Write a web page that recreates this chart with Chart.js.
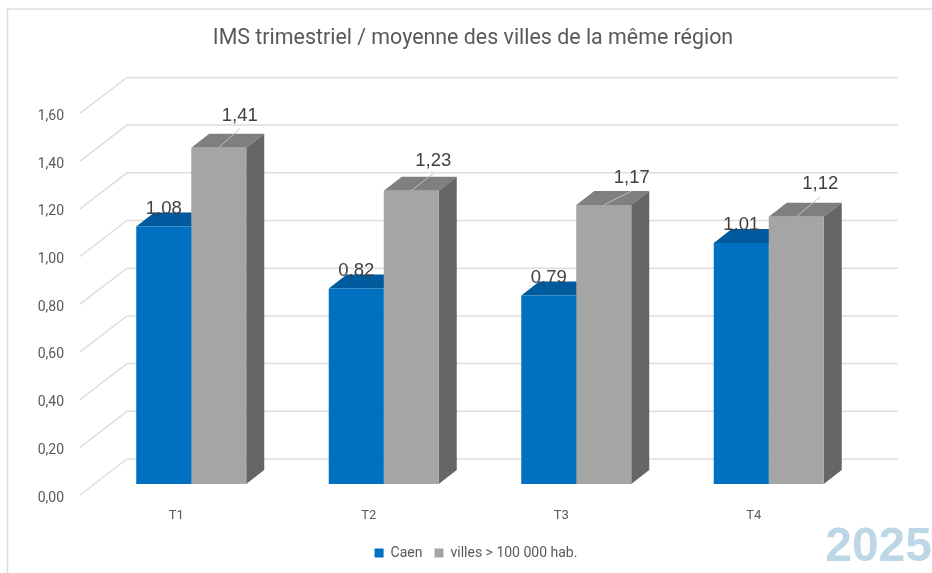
<!DOCTYPE html>
<html>
<head>
<meta charset="utf-8">
<title>IMS trimestriel</title>
<script src="https://cdn.jsdelivr.net/npm/chart.js@4"></script>
<style>
html, body { margin: 0; padding: 0; background: #fff; overflow: hidden; }
#wrap { position: absolute; left: 0; top: 0; width: 932px; height: 573px; }
</style>
</head>
<body>
<div id="wrap"><canvas id="imsChart" width="932" height="573"></canvas></div>
<script>
const categories = ["T1", "T2", "T3", "T4"];
const caenValues = [1.08, 0.82, 0.79, 1.01];
const villesValues = [1.41, 1.23, 1.17, 1.12];
const yTickLabels = ["0,00", "0,20", "0,40", "0,60", "0,80", "1,00", "1,20", "1,40", "1,60"];
const caenLabels = ["1,08", "0,82", "0,79", "1,01"];
const villesLabels = ["1,41", "1,23", "1,17", "1,12"];

const FONT = "Roboto, sans-serif";
const LABEL_FONT = "'Liberation Sans', sans-serif";
const DEPTH_X = 18, DEPTH_Y = 14;
// where each grey bar's label was dragged to, relative to the top of the bar
const villesLabelShift = [[21, -32], [22, -30], [28, -27], [24, -33]];

function shape(ctx, pts, color) {
    ctx.fillStyle = color;
    ctx.beginPath();
    pts.forEach((p, i) => i ? ctx.lineTo(p[0], p[1]) : ctx.moveTo(p[0], p[1]));
    ctx.closePath();
    ctx.fill();
}

// Frame, back wall grid and the depth of the bars, all behind the fronts
const depthPlugin = {
    id: "depth",
    afterLayout(chart) {
        // legend sits a little right of the title in the original
        chart.legend.left += 3;
        chart.legend.right += 3;
    },
    beforeDatasetsDraw(chart) {
        const ctx = chart.ctx, y = chart.scales.y;
        ctx.save();
        ctx.strokeStyle = "#dedede";
        ctx.lineWidth = 1.5;
        ctx.beginPath();
        ctx.moveTo(7.5, 573); ctx.lineTo(7.5, 9); ctx.lineTo(932, 9);
        ctx.stroke();
        y.ticks.forEach((t, i) => {
            const py = y.getPixelForTick(i);
            ctx.beginPath();
            ctx.moveTo(80, py + 11);
            ctx.lineTo(127, py - 25);
            ctx.lineTo(898, py - 25);
            ctx.stroke();
        });
        const faces = [["#005a9e", "#00508c"], ["#7f7f7f", "#666666"]];
        [0, 1].forEach(d => {
            chart.getDatasetMeta(d).data.forEach(bar => {
                const l = bar.x - bar.width / 2, r = bar.x + bar.width / 2;
                shape(ctx, [[l, bar.y], [l + DEPTH_X, bar.y - DEPTH_Y], [r + DEPTH_X, bar.y - DEPTH_Y], [r, bar.y]], faces[d][0]);
                shape(ctx, [[r, bar.y], [r + DEPTH_X, bar.y - DEPTH_Y], [r + DEPTH_X, bar.base - DEPTH_Y], [r, bar.base]], faces[d][1]);
            });
        });
        ctx.restore();
    },
    afterDatasetsDraw(chart) {
        const ctx = chart.ctx;
        ctx.save();
        ctx.textAlign = "center";
        ctx.textBaseline = "middle";
        ctx.font = "18.5px " + LABEL_FONT;
        ctx.fillStyle = "#404040";
        chart.getDatasetMeta(0).data.forEach((bar, i) => {
            ctx.fillText(caenLabels[i], bar.x, bar.y - 18);
        });
        chart.getDatasetMeta(1).data.forEach((bar, i) => {
            const [dx, dy] = villesLabelShift[i];
            ctx.strokeStyle = "#bfbfbf";
            ctx.lineWidth = 1;
            ctx.beginPath();
            ctx.moveTo(bar.x, bar.y);
            ctx.lineTo(bar.x + dx, bar.y + dy + 13);
            ctx.stroke();
            ctx.fillText(villesLabels[i], bar.x + dx, bar.y + dy);
        });
        ctx.font = "bold 48px " + LABEL_FONT;
        ctx.fillStyle = "#bdd7e7";
        ctx.textAlign = "right";
        ctx.fillText("2025", 932, 548);
        ctx.restore();
    }
};

new Chart(document.getElementById("imsChart"), {
    type: "bar",
    data: {
        labels: categories,
        datasets: [
            { label: "Caen", data: caenValues, backgroundColor: "#0070c0" },
            { label: "villes > 100 000 hab.", data: villesValues, backgroundColor: "#a5a5a5" }
        ]
    },
    options: {
        responsive: false,
        animation: false,
        layout: { padding: { left: 14, right: 0, top: 0, bottom: 3 } },
        categoryPercentage: 0.5714,
        barPercentage: 1,
        plugins: {
            tooltip: { enabled: false },
            title: {
                display: true,
                text: "IMS trimestriel / moyenne des villes de la même région",
                color: "#595959",
                font: { family: FONT, size: 21.4, weight: "normal" },
                padding: { top: 26, bottom: 50.7 }
            },
            legend: {
                position: "bottom",
                labels: { boxWidth: 9, boxHeight: 9, color: "#595959", font: { family: FONT, size: 14 }, padding: 12 }
            }
        },
        scales: {
            x: {
                grid: { display: false },
                border: { display: false },
                ticks: { color: "#595959", font: { family: FONT, size: 13 }, labelOffset: -15, padding: 16 },
                afterFit(scale) { scale.height = 50; }
            },
            y: {
                min: 0,
                max: 1.6,
                grid: { display: false },
                border: { display: false },
                ticks: {
                    stepSize: 0.2,
                    color: "#595959",
                    font: { family: FONT, size: 14 },
                    labelOffset: 14,
                    padding: 23,
                    callback: (v, i) => yTickLabels[i]
                },
                afterFit(scale) { scale.width = 81; }
            },
            // empty axis, only keeps the plot clear of the right edge
            rightGap: {
                position: "right",
                grid: { display: false },
                border: { display: false },
                ticks: { display: false },
                afterFit(scale) { scale.width = 67; }
            }
        }
    },
    plugins: [depthPlugin]
});
</script>
</body>
</html>
